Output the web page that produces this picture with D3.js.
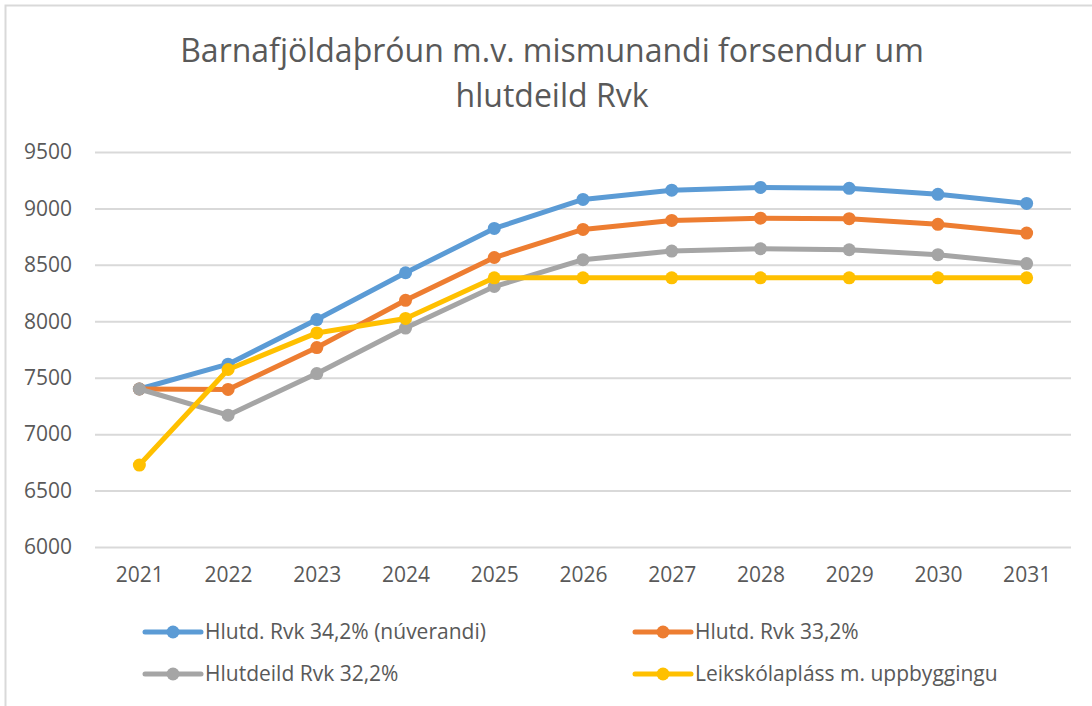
<html>
<head>
  <script src="https://d3js.org/d3.v7.min.js"></script>
  <style>
    body { margin: 0; background: #fff; }
  </style>
</head>
<body>
  <div id="chart"></div>
  <script>
    // data
    const years = ["2021", "2022", "2023", "2024", "2025", "2026", "2027", "2028", "2029", "2030", "2031"];
    const seriesNames = ["Hlutd. Rvk 34,2% (núverandi)", "Hlutd. Rvk 33,2%", "Hlutdeild Rvk 32,2%", "Leikskólapláss m. uppbyggingu"];
    const blueVals   = [7400, 7620, 8015, 8430, 8823, 9080, 9162, 9186, 9178, 9125, 9044];
    const orangeVals = [7400, 7396, 7767, 8186, 8565, 8814, 8894, 8914, 8909, 8859, 8782];
    const grayVals   = [7400, 7168, 7537, 7940, 8308, 8546, 8622, 8643, 8634, 8590, 8511];
    const yellowVals = [6726, 7573, 7897, 8025, 8385, 8385, 8385, 8385, 8385, 8385, 8385];
    const yTicks = [6000, 6500, 7000, 7500, 8000, 8500, 9000, 9500];
    const titleLines = ["Barnafjöldaþróun m.v. mismunandi forsendur um", "hlutdeild Rvk"];

    const colors = ["#5B9BD5", "#ED7D31", "#A5A5A5", "#FFC000"];
    const allVals = [blueVals, orangeVals, grayVals, yellowVals];
    const series = seriesNames.map((name, i) => ({ name: name, color: colors[i], values: allVals[i] }));

    const width = 1092, height = 706;
    const margin = { top: 152, right: 21, bottom: 159, left: 95 };
    const font = "'Open Sans', sans-serif";
    const textColor = "#595959";

    const svg = d3.create("svg")
      .attr("width", width)
      .attr("height", height);

    // chart area border
    svg.append("rect")
      .attr("x", 5.5).attr("y", 5.5)
      .attr("width", width + 20).attr("height", height + 20)
      .attr("fill", "#fff")
      .attr("stroke", "#d9d9d9")
      .attr("stroke-width", 2);

    const x = d3.scalePoint()
      .domain(years)
      .range([margin.left, width - margin.right])
      .padding(0.5);

    const y = d3.scaleLinear()
      .domain([6000, 9500])
      .range([height - margin.bottom, margin.top]);

    // gridlines + y labels
    const yAxis = svg.append("g")
      .attr("transform", `translate(${margin.left},0)`)
      .call(d3.axisLeft(y).tickValues(yTicks).tickFormat(d3.format("d"))
        .tickSize(-(width - margin.left - margin.right)).tickPadding(23));
    yAxis.select(".domain").remove();
    yAxis.selectAll(".tick line").attr("stroke", "#d9d9d9").attr("stroke-width", 2);
    yAxis.selectAll(".tick text")
      .attr("fill", textColor)
      .attr("font-family", font)
      .attr("font-size", 21);

    // x labels
    const xAxis = svg.append("g")
      .attr("transform", `translate(0,${height - margin.bottom})`)
      .call(d3.axisBottom(x).tickSize(0).tickPadding(20));
    xAxis.select(".domain").remove();
    xAxis.selectAll(".tick text")
      .attr("fill", textColor)
      .attr("font-family", font)
      .attr("font-size", 21);

    const line = d3.line()
      .x((d, i) => x(years[i]))
      .y(d => y(d));

    const g = svg.append("g");
    series.forEach(s => {
      g.append("path")
        .attr("d", line(s.values))
        .attr("fill", "none")
        .attr("stroke", s.color)
        .attr("stroke-width", 5)
        .attr("stroke-linejoin", "round")
        .attr("stroke-linecap", "round");
      g.append("g")
        .attr("fill", s.color)
        .selectAll("circle")
        .data(s.values)
        .join("circle")
          .attr("cx", (d, i) => x(years[i]))
          .attr("cy", d => y(d))
          .attr("r", 6.5);
    });

    // title
    const title = svg.append("text")
      .attr("text-anchor", "middle")
      .attr("fill", textColor)
      .attr("font-family", font)
      .attr("font-size", 32);
    title.selectAll("tspan")
      .data(titleLines)
      .join("tspan")
        .attr("x", 552)
        .attr("y", (d, i) => 62 + i * 45)
        .text(d => d);

    // legend
    const legendPos = [[145, 632], [635, 632], [145, 674], [635, 674]];
    const legend = svg.append("g")
      .selectAll("g")
      .data(series)
      .join("g")
        .attr("transform", (d, i) => `translate(${legendPos[i][0]},${legendPos[i][1]})`);
    legend.append("line")
      .attr("x1", 0).attr("x2", 56)
      .attr("stroke", d => d.color)
      .attr("stroke-width", 5)
      .attr("stroke-linecap", "round");
    legend.append("circle")
      .attr("cx", 28).attr("r", 6.5)
      .attr("fill", d => d.color);
    legend.append("text")
      .attr("x", 60)
      .attr("dy", "0.35em")
      .attr("fill", textColor)
      .attr("font-family", font)
      .attr("font-size", 21)
      .text(d => d.name);

    document.getElementById("chart").appendChild(svg.node());
  </script>
</body>
</html>
